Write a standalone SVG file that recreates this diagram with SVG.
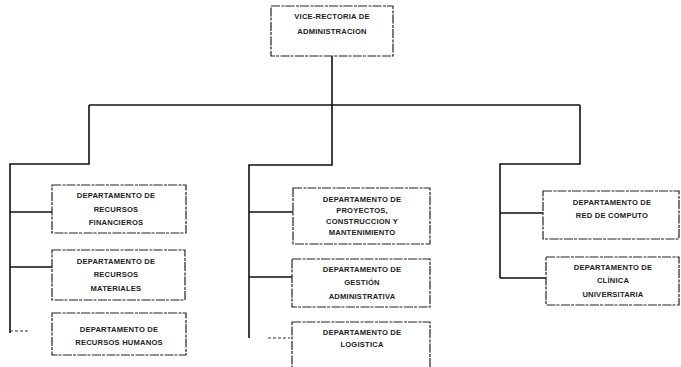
<svg xmlns="http://www.w3.org/2000/svg" width="681" height="367" viewBox="0 0 681 367">
<style>
.box{fill:#fff;stroke:#222;stroke-width:1.2;stroke-dasharray:9 1.5 3 1}
.t{font-family:"Liberation Sans",Arial,sans-serif;font-size:7.6px;font-weight:bold;fill:#222;text-anchor:middle;letter-spacing:0.2px}
.c{fill:none;stroke:#111;stroke-width:1.6}
.s{fill:none;stroke:#333;stroke-width:1.2;stroke-dasharray:3 2}
</style>
<rect width="681" height="367" fill="#fff"/>
<g id="connectors">
<path class="c" d="M332 56V165H249V338"/>
<path class="c" d="M89 105H580"/>
<path class="c" d="M89 105V164H10V333"/>
<path class="c" d="M580 105V164H500V278"/>
<path class="c" d="M10 212H52M10 267H52"/>
<path class="c" d="M249 212H293M249 277H292"/>
<path class="c" d="M500 213H543M500 278H546"/>
<path class="s" d="M10 331H30"/>
<path class="s" d="M268 338H290"/>
</g>
<g id="vicerrectoria">
<rect class="box" x="271" y="6" width="122" height="50"/>
<text class="t" x="332" y="19">VICE-RECTORIA DE</text>
<text class="t" x="332" y="34">ADMINISTRACION</text>
</g>
<g id="rec-financieros">
<rect class="box" x="52" y="185" width="134" height="48"/>
<text class="t" x="116" y="198">DEPARTAMENTO DE</text>
<text class="t" x="116" y="212">RECURSOS</text>
<text class="t" x="116" y="225">FINANCIEROS</text>
</g>
<g id="rec-materiales">
<rect class="box" x="52" y="250" width="133" height="50"/>
<text class="t" x="116" y="264">DEPARTAMENTO DE</text>
<text class="t" x="116" y="277">RECURSOS</text>
<text class="t" x="116" y="291">MATERIALES</text>
</g>
<g id="rec-humanos">
<rect class="box" x="52" y="313" width="134" height="42"/>
<text class="t" x="119" y="332">DEPARTAMENTO DE</text>
<text class="t" x="119" y="345">RECURSOS HUMANOS</text>
</g>
<g id="proyectos">
<rect class="box" x="293" y="188" width="137" height="56"/>
<text class="t" x="362" y="202">DEPARTAMENTO DE</text>
<text class="t" x="362" y="213">PROYECTOS,</text>
<text class="t" x="362" y="224">CONSTRUCCION Y</text>
<text class="t" x="362" y="235">MANTENIMIENTO</text>
</g>
<g id="gestion">
<rect class="box" x="292" y="259" width="138" height="48"/>
<text class="t" x="362" y="272">DEPARTAMENTO DE</text>
<text class="t" x="362" y="285">GESTIÓN</text>
<text class="t" x="362" y="299">ADMINISTRATIVA</text>
</g>
<g id="logistica">
<rect class="box" x="292" y="322" width="138" height="50"/>
<text class="t" x="362" y="335">DEPARTAMENTO DE</text>
<text class="t" x="362" y="347">LOGISTICA</text>
</g>
<g id="red-computo">
<rect class="box" x="543" y="191" width="136" height="48"/>
<text class="t" x="612" y="205">DEPARTAMENTO DE</text>
<text class="t" x="612" y="218">RED DE COMPUTO</text>
</g>
<g id="clinica">
<rect class="box" x="546" y="257" width="133" height="48"/>
<text class="t" x="613" y="270">DEPARTAMENTO DE</text>
<text class="t" x="613" y="283">CLÍNICA</text>
<text class="t" x="613" y="297">UNIVERSITARIA</text>
</g>
</svg>
